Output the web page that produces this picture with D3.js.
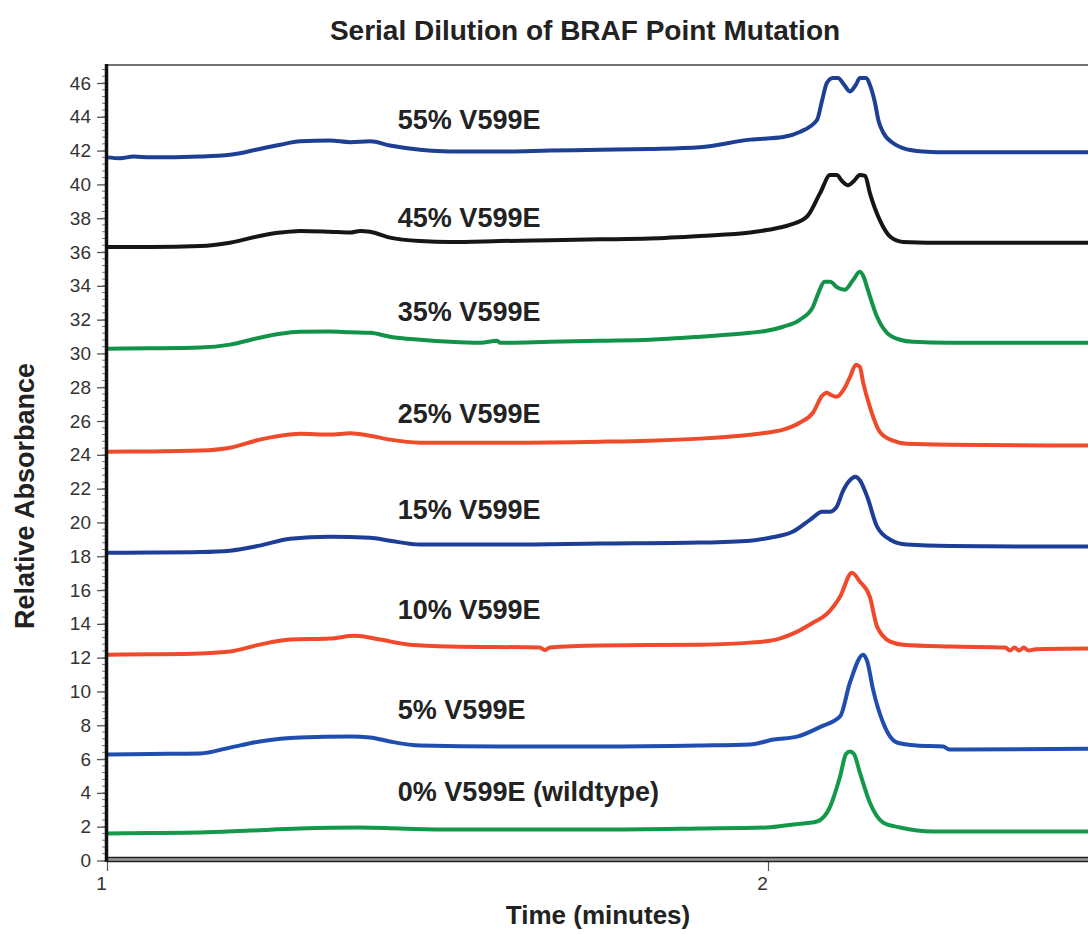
<!DOCTYPE html>
<html>
<head>
<meta charset="utf-8">
<script src="https://cdn.jsdelivr.net/npm/d3@7"></script>
<style>
  body { margin: 0; background: #fff; }
  svg { display: block; font-family: "Liberation Sans", Arial, sans-serif; }
</style>
</head>
<body>
<svg id="chart"></svg>
<script>
// ---------- data (time in minutes, relative absorbance) ----------
var seriesNames = ["55% V599E", "45% V599E", "35% V599E", "25% V599E",
                   "15% V599E", "10% V599E", "5% V599E", "0% V599E (wildtype)"];
var seriesColors = ["#1d3f94", "#161616", "#13924a", "#ee4b2b",
                    "#1e3d96", "#ef4a2b", "#1f4db0", "#14994b"];
// where each label sits (absorbance value of its baseline)
var labelValues = [43.25, 37.5, 31.9, 25.9, 20.2, 14.3, 8.35, 3.5];
var labelTime = 1.44;

var s55 = [[1.000,41.6],[1.020,41.55],[1.040,41.65],[1.065,41.6],[1.141,41.65],[1.186,41.75],[1.231,42.1],[1.262,42.35],
  [1.292,42.55],[1.337,42.6],[1.368,42.5],[1.398,42.55],[1.428,42.3],[1.474,42.05],[1.519,41.95],[1.595,41.95],
  [1.670,42.0],[1.746,42.05],[1.821,42.1],[1.897,42.2],[1.973,42.65],[2.023,42.8],[2.048,43.1],[2.074,43.8],
  [2.082,45.0],[2.089,46.0],[2.098,46.3],[2.106,46.3],[2.115,45.9],[2.124,45.5],[2.133,45.9],[2.139,46.3],
  [2.148,46.3],[2.155,45.8],[2.162,44.8],[2.167,43.8],[2.174,43.1],[2.189,42.45],[2.204,42.15],[2.234,41.95],
  [2.275,41.9],[2.49,41.9]];
var s45 = [[1.000,36.3],[1.065,36.3],[1.141,36.35],[1.186,36.55],[1.231,36.95],[1.262,37.15],[1.292,37.25],[1.337,37.2],
  [1.368,37.15],[1.383,37.25],[1.398,37.2],[1.428,36.85],[1.474,36.65],[1.519,36.6],[1.595,36.65],[1.670,36.7],
  [1.746,36.75],[1.821,36.8],[1.897,36.95],[1.973,37.15],[1.998,37.3],[2.033,37.6],[2.059,38.1],[2.079,39.5],
  [2.094,40.55],[2.104,40.55],[2.112,40.2],[2.121,39.95],[2.130,40.2],[2.139,40.55],[2.147,40.5],[2.154,39.5],
  [2.169,37.9],[2.185,36.9],[2.204,36.6],[2.275,36.55],[2.49,36.55]];
var s35 = [[1.000,30.28],[1.065,30.3],[1.141,30.35],[1.186,30.52],[1.231,30.93],[1.262,31.16],[1.292,31.28],[1.337,31.3],
  [1.368,31.25],[1.398,31.22],[1.428,30.99],[1.474,30.81],[1.519,30.69],[1.565,30.63],[1.590,30.75],[1.595,30.63],
  [1.670,30.69],[1.746,30.75],[1.821,30.81],[1.897,30.99],[1.973,31.22],[1.998,31.34],[2.023,31.58],[2.048,31.99],
  [2.068,32.76],[2.074,33.35],[2.086,34.24],[2.094,34.24],[2.105,33.9],[2.116,33.77],[2.128,34.3],[2.139,34.83],
  [2.145,34.5],[2.151,33.77],[2.165,32.17],[2.180,31.22],[2.200,30.81],[2.219,30.69],[2.275,30.63],[2.49,30.63]];
var s25 = [[1.000,24.19],[1.065,24.2],[1.141,24.25],[1.186,24.42],[1.231,24.9],[1.262,25.13],[1.292,25.25],[1.337,25.2],
  [1.368,25.28],[1.398,25.13],[1.428,24.9],[1.474,24.72],[1.595,24.72],[1.746,24.78],[1.821,24.84],[1.897,24.96],
  [1.973,25.19],[1.998,25.31],[2.023,25.49],[2.048,25.9],[2.068,26.49],[2.082,27.5],[2.089,27.68],[2.095,27.55],
  [2.104,27.44],[2.115,27.9],[2.124,28.6],[2.133,29.33],[2.139,29.2],[2.144,28.27],[2.154,26.85],[2.169,25.37],
  [2.189,24.84],[2.210,24.66],[2.275,24.6],[2.49,24.55]];
var s15 = [[1.000,18.21],[1.065,18.22],[1.141,18.25],[1.186,18.33],[1.231,18.63],[1.277,19.04],[1.337,19.16],[1.398,19.1],
  [1.428,18.92],[1.474,18.69],[1.595,18.69],[1.746,18.75],[1.897,18.81],[1.973,18.92],[2.003,19.1],[2.038,19.46],
  [2.064,20.17],[2.082,20.64],[2.094,20.64],[2.104,20.93],[2.113,21.82],[2.124,22.5],[2.132,22.71],[2.139,22.5],
  [2.150,21.53],[2.165,19.75],[2.185,18.98],[2.210,18.69],[2.275,18.6],[2.49,18.57]];
var s10 = [[1.000,12.18],[1.065,12.2],[1.141,12.25],[1.186,12.36],[1.231,12.77],[1.277,13.07],[1.337,13.13],[1.375,13.3],
  [1.413,13.07],[1.458,12.77],[1.519,12.66],[1.655,12.6],[1.662,12.45],[1.670,12.6],[1.746,12.72],[1.897,12.77],
  [1.973,12.89],[2.012,13.07],[2.041,13.48],[2.068,14.07],[2.088,14.55],[2.109,15.61],[2.127,17.03],[2.139,16.5],
  [2.154,15.61],[2.165,13.84],[2.185,12.95],[2.204,12.77],[2.275,12.66],[2.359,12.6],[2.366,12.42],[2.373,12.6],
  [2.380,12.42],[2.387,12.6],[2.394,12.42],[2.405,12.5],[2.49,12.54]];
var s5 = [[1.000,6.27],[1.065,6.3],[1.141,6.33],[1.186,6.68],[1.231,7.04],[1.292,7.28],[1.368,7.33],[1.398,7.28],
  [1.428,7.04],[1.474,6.8],[1.595,6.74],[1.746,6.74],[1.897,6.8],[1.973,6.86],[2.009,7.16],[2.044,7.33],
  [2.080,7.92],[2.109,8.52],[2.124,10.53],[2.144,12.18],[2.150,11.8],[2.159,10.11],[2.174,8.16],[2.195,6.98],
  [2.225,6.8],[2.265,6.74],[2.275,6.56],[2.49,6.62]];
var s0 = [[1.000,1.6],[1.065,1.62],[1.141,1.65],[1.216,1.77],[1.292,1.89],[1.383,1.95],[1.443,1.89],[1.519,1.83],
  [1.746,1.83],[1.897,1.89],[1.998,1.95],[2.038,2.13],[2.074,2.31],[2.094,3.19],[2.109,4.97],[2.118,6.3],
  [2.124,6.45],[2.130,6.3],[2.139,5.2],[2.154,3.43],[2.174,2.25],[2.200,1.95],[2.250,1.71],[2.49,1.71]];
var allSeries = [s55, s45, s35, s25, s15, s10, s5, s0];

var yMajorTicks = d3.range(0, 47, 2);
var yMinorTicks = d3.range(0, 47.01, 0.4);
var xTicks = [1, 2];

// ---------- layout ----------
var screen = { width: 1088, height: 934 };
var svg = d3.select("#chart")
            .attr("width", screen.width)
            .attr("height", screen.height);

var x = d3.scaleLinear().domain([1, 2]).range([107, 768]);
var y = d3.scaleLinear().domain([0, 46]).range([860.5, 83]);
var plotTop = 65;

// title
svg.append("text")
   .attr("x", 585).attr("y", 40)
   .attr("text-anchor", "middle")
   .attr("font-size", "28px").attr("font-weight", "bold")
   .attr("fill", "#222")
   .text("Serial Dilution of BRAF Point Mutation");

// traces
var line = d3.line()
             .curve(d3.curveMonotoneX)
             .x(function(d){ return x(d[0]); })
             .y(function(d){ return y(d[1]); });

svg.append("g").attr("id", "traces")
   .selectAll("path")
   .data(allSeries)
   .enter()
   .append("path")
   .attr("d", line)
   .attr("fill", "none")
   .attr("stroke", function(d, i){ return seriesColors[i]; })
   .attr("stroke-width", 4)
   .attr("stroke-linejoin", "round");

// labels
svg.append("g").attr("id", "labels")
   .selectAll("text")
   .data(seriesNames)
   .enter()
   .append("text")
   .attr("x", x(labelTime))
   .attr("y", function(d, i){ return y(labelValues[i]); })
   .attr("font-size", "27px").attr("font-weight", "bold")
   .attr("fill", "#222")
   .text(function(d){ return d; });

// y axis
var yAxis = d3.axisLeft(y).tickValues(yMajorTicks).tickSize(10).tickPadding(6);
var gy = svg.append("g").attr("transform", "translate(107,0)").call(yAxis);
gy.select(".domain").remove();
gy.selectAll(".tick line").attr("stroke", "#555").attr("stroke-width", 1.3);
gy.selectAll(".tick text").attr("font-size", "19px").attr("fill", "#333")
  .attr("font-family", "Liberation Sans, Arial, sans-serif");

svg.append("g").selectAll("line")
   .data(yMinorTicks)
   .enter().append("line")
   .attr("x1", 102).attr("x2", 107)
   .attr("y1", function(d){ return y(d); })
   .attr("y2", function(d){ return y(d); })
   .attr("stroke", "#777").attr("stroke-width", 1);

// x axis
var xAxis = d3.axisBottom(x).tickValues(xTicks).tickSize(9).tickPadding(6)
              .tickFormat(d3.format("d"));
var gx = svg.append("g").attr("transform", "translate(0,862)").call(xAxis);
gx.select(".domain").remove();
gx.selectAll(".tick line").attr("stroke", "#555").attr("stroke-width", 1.2);
gx.selectAll(".tick text").attr("font-size", "19px").attr("fill", "#333")
  .attr("dx", "-6px")
  .attr("font-family", "Liberation Sans, Arial, sans-serif");

// frame
svg.append("line").attr("x1", 107).attr("x2", screen.width)
   .attr("y1", plotTop).attr("y2", plotTop)
   .attr("stroke", "#444").attr("stroke-width", 1.5);
svg.append("rect").attr("x", 107).attr("y", 857).attr("width", screen.width - 107).attr("height", 4.5)
   .attr("fill", "#999");
svg.append("line").attr("x1", 107).attr("x2", screen.width)
   .attr("y1", 857.5).attr("y2", 857.5).attr("stroke", "#222").attr("stroke-width", 1.6);
svg.append("line").attr("x1", 107).attr("x2", screen.width)
   .attr("y1", 861.5).attr("y2", 861.5).attr("stroke", "#222").attr("stroke-width", 1.6);
svg.append("line").attr("x1", 106.5).attr("x2", 106.5)
   .attr("y1", plotTop - 1).attr("y2", 862)
   .attr("stroke", "#111").attr("stroke-width", 3.5);

// axis titles
svg.append("text")
   .attr("transform", "translate(34,496) rotate(-90)")
   .attr("text-anchor", "middle")
   .attr("font-size", "27px").attr("font-weight", "bold")
   .attr("fill", "#222")
   .text("Relative Absorbance");

svg.append("text")
   .attr("x", 598).attr("y", 924)
   .attr("text-anchor", "middle")
   .attr("font-size", "26px").attr("font-weight", "bold")
   .attr("fill", "#222")
   .text("Time (minutes)");
</script>
</body>
</html>
